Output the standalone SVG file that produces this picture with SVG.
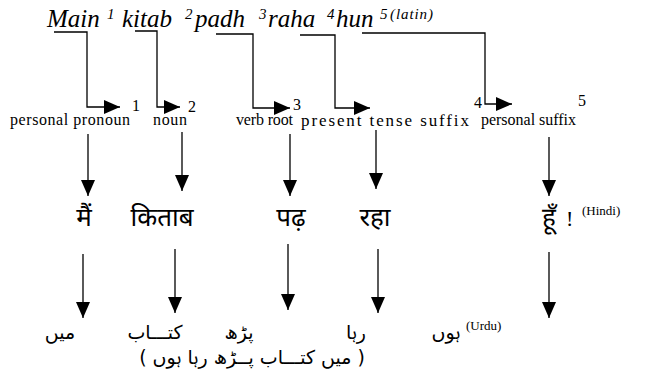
<svg xmlns="http://www.w3.org/2000/svg" width="667" height="379" viewBox="0 0 667 379">
<style>
.top{font-family:"Liberation Serif","Times New Roman",serif;font-style:italic;font-size:25px;fill:#000}
.sup{font-family:"Liberation Serif","Times New Roman",serif;font-style:italic;font-size:15px;fill:#000}
.supl{font-family:"Liberation Serif","Times New Roman",serif;font-style:italic;font-size:15px;fill:#000}
.lbl{font-family:"Liberation Serif","Times New Roman",serif;font-size:16px;fill:#000}
.num{font-family:"Liberation Serif","Times New Roman",serif;font-size:16px;fill:#000}
.tag{font-family:"Liberation Serif","Times New Roman",serif;font-size:13px;fill:#000}
.hi{font-family:"Noto Sans Devanagari","Lohit Devanagari","Noto Sans",sans-serif;font-size:26px;fill:#000;text-anchor:middle}
.ur{font-family:"DejaVu Sans","Noto Sans Arabic",sans-serif;font-size:19px;fill:#000;text-anchor:middle;direction:rtl}
.bang{font-family:"Liberation Serif","Times New Roman",serif;font-size:22px;fill:#000}
.c{fill:none;stroke:#000;stroke-width:1.3}
</style>
<defs>
<marker id="ah" markerUnits="userSpaceOnUse" markerWidth="18" markerHeight="16" refX="16" refY="7" orient="auto">
<path d="M0,0 L16,7 L0,14 z" fill="#000"/>
</marker>
</defs>
<g id="latin">
<text class="top" x="47" y="27">Main</text>
<text class="sup" x="107" y="19">1</text>
<text class="top" x="122" y="27">kitab</text>
<text class="sup" x="185" y="19">2</text>
<text class="top" x="195" y="27">padh</text>
<text class="sup" x="259" y="19">3</text>
<text class="top" x="268" y="27">raha</text>
<text class="sup" x="327" y="19">4</text>
<text class="top" x="336" y="27">hun</text>
<text class="sup" x="380" y="19">5</text>
<text class="supl" x="390" y="19" textLength="43" lengthAdjust="spacing">(latin)</text>
</g>
<g id="roles">
<text class="lbl" x="10" y="125" textLength="120" lengthAdjust="spacing">personal pronoun</text>
<text class="num" x="132" y="111">1</text>
<text class="lbl" x="153" y="125" textLength="34" lengthAdjust="spacing">noun</text>
<text class="num" x="188" y="112">2</text>
<text class="lbl" x="236" y="125" textLength="57" lengthAdjust="spacing">verb root</text>
<text class="num" x="293" y="110">3</text>
<text class="lbl" x="301" y="126" style="font-size:17px" textLength="168" lengthAdjust="spacing">present tense suffix</text>
<text class="num" x="474" y="108">4</text>
<text class="lbl" x="481" y="125" textLength="95" lengthAdjust="spacing">personal suffix</text>
<text class="num" x="578" y="106">5</text>
</g>
<g id="hindi">
<text class="hi" x="84" y="226">मैं</text>
<text class="hi" x="162" y="226">किताब</text>
<text class="hi" x="291" y="226">पढ़</text>
<text class="hi" x="375" y="226">रहा</text>
<text class="hi" x="549" y="226">हूँ</text>
<text class="bang" x="566" y="226">!</text>
<text class="tag" x="582" y="215">(Hindi)</text>
</g>
<g id="urdu">
<text class="ur" x="60" y="339">میں</text>
<text class="ur" x="155" y="339">کتـــاب</text>
<text class="ur" x="239" y="339">پڑھ</text>
<text class="ur" x="356" y="339">رہا</text>
<text class="ur" x="446" y="339">ہوں</text>
<text class="tag" x="466" y="330">(Urdu)</text>
<text class="ur" x="252" y="364">( میں کتـــاب پــڑھ رہا ہوں )</text>
</g>
<g id="connectors">
<polyline class="c" points="54,32 87,32 87,107 120,107" marker-end="url(#ah)"/>
<polyline class="c" points="135,31 157,31 157,107 180,107" marker-end="url(#ah)"/>
<polyline class="c" points="216,34 253,34 253,108 290,108" marker-end="url(#ah)"/>
<polyline class="c" points="300,35 335,35 335,108 370,108" marker-end="url(#ah)"/>
<polyline class="c" points="362,33 485,33 485,104 512,104" marker-end="url(#ah)"/>
<line class="c" x1="88" y1="134" x2="88" y2="196" marker-end="url(#ah)"/>
<line class="c" x1="182" y1="132" x2="182" y2="191" marker-end="url(#ah)"/>
<line class="c" x1="290" y1="134" x2="290" y2="196" marker-end="url(#ah)"/>
<line class="c" x1="376" y1="130" x2="376" y2="189" marker-end="url(#ah)"/>
<line class="c" x1="549" y1="137" x2="549" y2="196" marker-end="url(#ah)"/>
<line class="c" x1="83" y1="254" x2="83" y2="318" marker-end="url(#ah)"/>
<line class="c" x1="175" y1="249" x2="175" y2="313" marker-end="url(#ah)"/>
<line class="c" x1="288" y1="244" x2="288" y2="310" marker-end="url(#ah)"/>
<line class="c" x1="378" y1="249" x2="378" y2="313" marker-end="url(#ah)"/>
<line class="c" x1="549" y1="252" x2="549" y2="318" marker-end="url(#ah)"/>
</g>
</svg>
